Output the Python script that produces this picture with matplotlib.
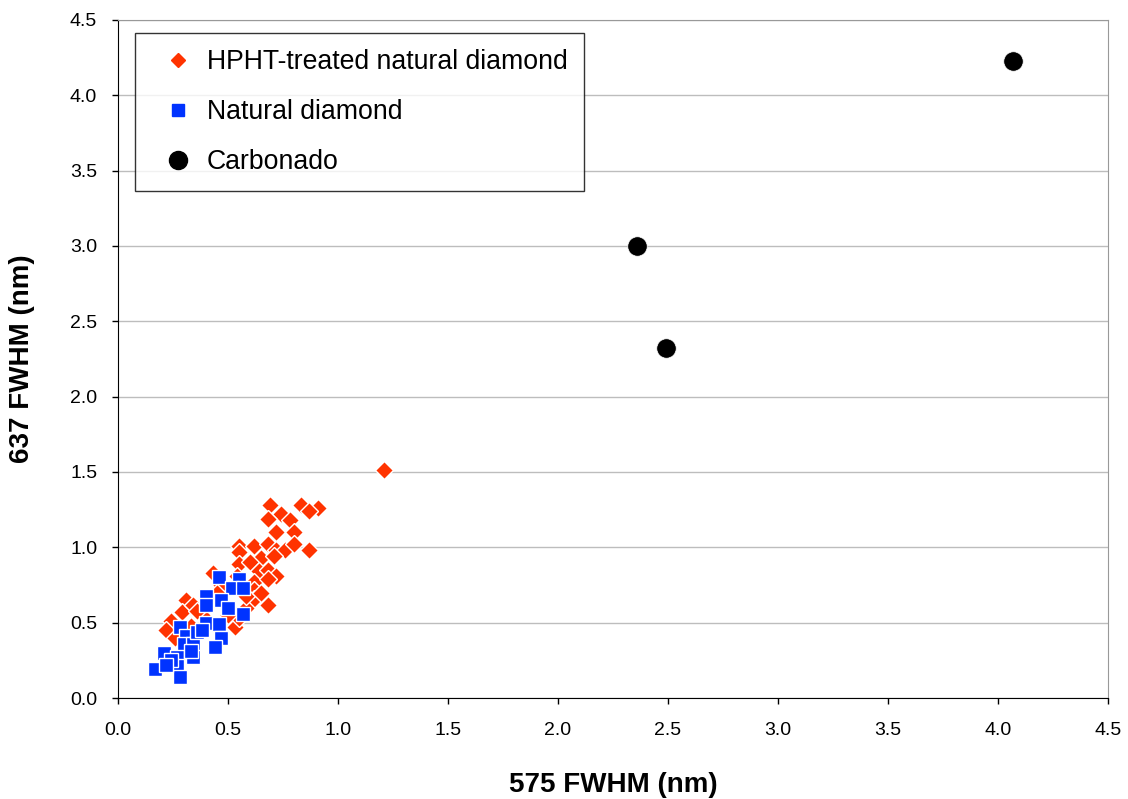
import matplotlib.pyplot as plt
from matplotlib.lines import Line2D
from matplotlib.legend_handler import HandlerLine2D
from matplotlib.ticker import FormatStrFormatter

plt.rcParams['font.family'] = ['Liberation Sans', 'DejaVu Sans']

# HPHT-treated natural diamond (575 FWHM, 637 FWHM)
hpht_x = [1.21, 0.69, 0.83, 0.91, 0.87, 0.74, 0.78, 0.68, 0.72, 0.80,
          0.55, 0.62, 0.68, 0.72, 0.76, 0.80, 0.87, 0.55, 0.65, 0.71,
          0.55, 0.60, 0.64, 0.68, 0.72, 0.43, 0.54, 0.62, 0.68, 0.62,
          0.68, 0.62, 0.47, 0.31, 0.29, 0.34, 0.24, 0.22, 0.53, 0.55,
          0.50, 0.45, 0.58, 0.38, 0.26, 0.33, 0.58, 0.65, 0.36, 0.42]
hpht_y = [1.51, 1.28, 1.28, 1.26, 1.24, 1.22, 1.18, 1.19, 1.10, 1.10,
          1.01, 1.01, 1.02, 0.98, 0.98, 1.02, 0.98, 0.97, 0.93, 0.94,
          0.89, 0.90, 0.84, 0.85, 0.81, 0.83, 0.81, 0.77, 0.79, 0.72,
          0.62, 0.66, 0.75, 0.65, 0.57, 0.62, 0.51, 0.45, 0.47, 0.53,
          0.55, 0.70, 0.60, 0.55, 0.40, 0.48, 0.68, 0.70, 0.58, 0.66]

# Natural diamond
nat_x = [0.46, 0.55, 0.52, 0.57, 0.40, 0.47, 0.40, 0.57, 0.40, 0.46,
         0.28, 0.31, 0.47, 0.30, 0.44, 0.34, 0.21, 0.27, 0.27, 0.17,
         0.28, 0.34, 0.36, 0.33, 0.24, 0.50, 0.38, 0.22]
nat_y = [0.80, 0.79, 0.73, 0.73, 0.68, 0.65, 0.62, 0.56, 0.50, 0.49,
         0.47, 0.41, 0.40, 0.36, 0.34, 0.36, 0.30, 0.27, 0.21, 0.19,
         0.14, 0.27, 0.44, 0.31, 0.25, 0.60, 0.45, 0.22]

# Carbonado
carb_x = [4.07, 2.36, 2.49]
carb_y = [4.23, 3.00, 2.32]

ticks = [0.0, 0.5, 1.0, 1.5, 2.0, 2.5, 3.0, 3.5, 4.0, 4.5]

red = '#FF3300'
blue = '#0033FF'

fig = plt.figure(figsize=(11.28, 7.99), dpi=100)
ax = fig.add_axes([0.1046, 0.1264, 0.8777, 0.8486])

ax.plot(hpht_x, hpht_y, 'D', color=red, markersize=9, markeredgecolor='white',
        markeredgewidth=1, linestyle='none')
ax.plot(nat_x, nat_y, 's', color=blue, markersize=10, markeredgecolor='white',
        markeredgewidth=1, linestyle='none')
ax.plot(carb_x, carb_y, 'o', color='black', markersize=14, markeredgecolor='white',
        markeredgewidth=0.5, linestyle='none')

ax.set_xlim(0, 4.5)
ax.set_ylim(0, 4.5)
ax.set_xticks(ticks)
ax.set_yticks(ticks)
ax.xaxis.set_major_formatter(FormatStrFormatter('%.1f'))
ax.yaxis.set_major_formatter(FormatStrFormatter('%.1f'))
ax.tick_params(direction='out', length=4, width=1, labelsize=14)
ax.tick_params(axis='x', pad=13)
ax.tick_params(axis='y', pad=11)
ax.yaxis.grid(True, color='#bdbdbd', linewidth=1)
ax.set_axisbelow(True)
for s in ['top', 'right']:
    ax.spines[s].set_color('#999999')
for s in ['left', 'bottom']:
    ax.spines[s].set_color('black')

ax.set_xlabel('575 FWHM (nm)', fontsize=20, fontweight='bold', labelpad=24)
ax.set_ylabel('637 FWHM (nm)', fontsize=20, fontweight='bold', labelpad=25)

handles = [
    Line2D([], [], marker='D', color=red, markersize=7, linestyle='none'),
    Line2D([], [], marker='s', color=blue, markersize=8, linestyle='none'),
    Line2D([], [], marker='o', color='black', markersize=13, linestyle='none'),
]
labels = ['HPHT-treated natural diamond', 'Natural diamond', 'Carbonado']
leg = ax.legend(handles, labels, loc='upper left', bbox_to_anchor=(0.017, 0.981),
                fontsize=19.2, frameon=True, fancybox=False, edgecolor='black',
                borderpad=0.6, labelspacing=0.9, handletextpad=0.5,
                borderaxespad=0, handlelength=1.6,
                handler_map={Line2D: HandlerLine2D(xpad=0.45)})
leg.get_frame().set_linewidth(1)

fig.savefig('out.png', dpi=100)
